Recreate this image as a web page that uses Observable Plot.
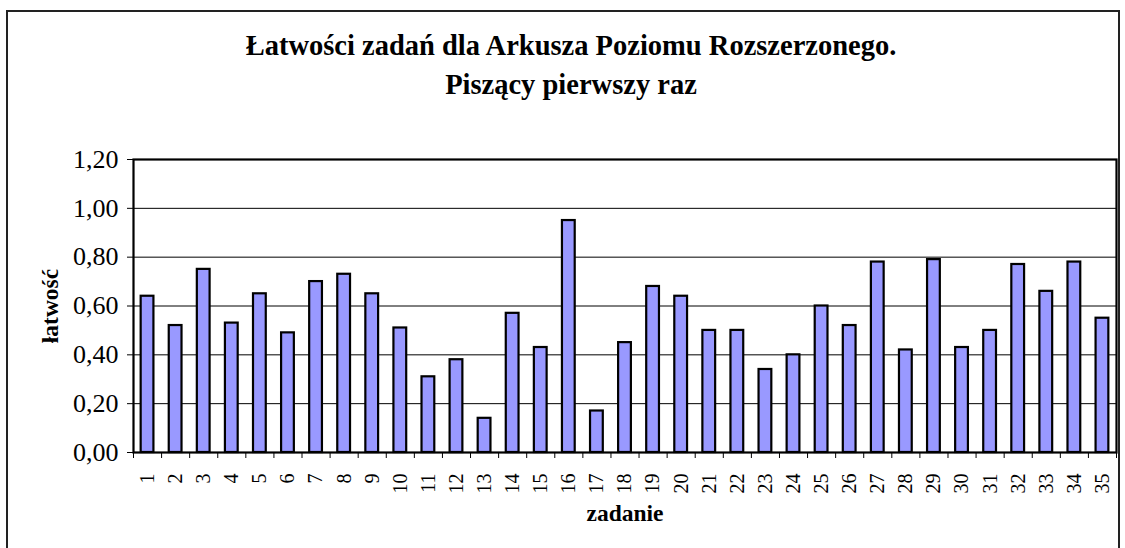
<!DOCTYPE html>
<html>
<head>
<meta charset="utf-8">
<script src="https://cdn.jsdelivr.net/npm/d3@7"></script>
<script src="https://cdn.jsdelivr.net/npm/@observablehq/plot@0.6"></script>
<style>
  html, body { margin: 0; padding: 0; background: #fff; }
  body { width: 1125px; height: 548px; position: relative; overflow: hidden; font-family: "Liberation Serif", "Times New Roman", serif; }
  #frame { position: absolute; left: 6px; top: 10px; width: 1114px; height: 600px; border: 2px solid #222; box-sizing: border-box; }
  #title { position: absolute; left: 0; top: 26px; width: 1142px; text-align: center; font-weight: bold; font-size: 28.5px; line-height: 39px; color: #000; }
  #chart { position: absolute; left: 0; top: 120px; }
</style>
</head>
<body>
<div id="frame"></div>
<div id="title">Łatwości zadań dla Arkusza Poziomu Rozszerzonego.<br>Piszący pierwszy raz</div>
<div id="chart"></div>
<script>
const zadania = [1,2,3,4,5,6,7,8,9,10,11,12,13,14,15,16,17,18,19,20,21,22,23,24,25,26,27,28,29,30,31,32,33,34,35];
const latwosc = [0.64,0.52,0.75,0.53,0.65,0.49,0.70,0.73,0.65,0.51,0.31,0.38,0.14,0.57,0.43,0.95,0.17,0.45,0.68,0.64,0.50,0.50,0.34,0.40,0.60,0.52,0.78,0.42,0.79,0.43,0.50,0.77,0.66,0.78,0.55];
const yTicks = [0, 0.2, 0.4, 0.6, 0.8, 1.0, 1.2];
const gridLines = [0.2, 0.4, 0.6, 0.8, 1.0];
const xLabel = "zadanie";
const yLabel = "łatwość";

const data = zadania.map((z, i) => ({zadanie: z, latwosc: latwosc[i]}));
const halfBar = 0.5 / 2.2; // Excel gap width 120%
const boundaries = [zadania[0] - 0.5, ...zadania.map(z => z + 0.5)];
const fmt = d => d3.format(".2f")(d).replace(".", ",");

const chart = Plot.plot({
  width: 1125,
  height: 428,
  marginLeft: 133,
  marginRight: 9,
  marginTop: 39,
  marginBottom: 96,
  style: {fontFamily: "'Liberation Serif', 'Times New Roman', serif", background: "transparent", color: "#000", overflow: "visible"},
  x: {domain: [boundaries[0], boundaries[boundaries.length - 1]], axis: null},
  y: {domain: [0, 1.2], axis: null},
  marks: [
    Plot.ruleY(gridLines, {stroke: "#000", strokeWidth: 1}),
    Plot.rectY(data, {x1: d => d.zadanie - halfBar, x2: d => d.zadanie + halfBar, y1: 0, y2: "latwosc", fill: "#9999FF", stroke: "#000", strokeWidth: 2.2}),
    Plot.axisY(yTicks, {tickSize: 6, tickPadding: 9, fontSize: 26, tickFormat: fmt, label: null, stroke: "#000"}),
    Plot.axisX(boundaries, {tickSize: 6, text: null, label: null, stroke: "#000"}),
    Plot.axisX(zadania, {tickSize: 0, tickRotate: -90, tickPadding: 21, fontSize: 20, tickFormat: d => String(d), label: null}),
    Plot.frame({stroke: "#000", strokeWidth: 2.2}),
    Plot.text([yLabel], {frameAnchor: "left", dx: -83, rotate: -90, textAnchor: "middle", lineAnchor: "middle", fontWeight: "bold", fontSize: 23.5, fill: "#000"}),
    Plot.text([xLabel], {frameAnchor: "bottom", dy: 61, textAnchor: "middle", lineAnchor: "middle", fontWeight: "bold", fontSize: 23.5, fill: "#000"})
  ]
});
document.getElementById("chart").appendChild(chart);
</script>
</body>
</html>
